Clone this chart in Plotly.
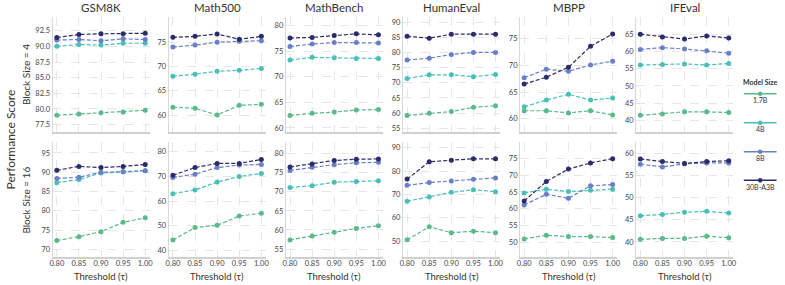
import plotly.graph_objects as go

# ---------------- data ----------------
thresholds = [0.80, 0.85, 0.90, 0.95, 1.00]
threshold_ticks = ["0.80", "0.85", "0.90", "0.95", "1.00"]
model_sizes = ["1.7B", "4B", "8B", "30B-A3B"]
benchmarks = ["GSM8K", "Math500", "MathBench", "HumanEval", "MBPP", "IFEval"]
block_labels = ["Block Size = 4", "Block Size = 16"]

# each list: rows = model sizes (1.7B, 4B, 8B, 30B-A3B), cols = thresholds
gsm8k_bs4 = [[79.0, 79.2, 79.4, 79.5, 79.8],
             [90.0, 90.3, 90.2, 90.5, 90.5],
             [91.0, 91.1, 90.9, 91.2, 91.1],
             [91.4, 91.9, 92.0, 92.0, 92.1]]
math500_bs4 = [[61.6, 61.4, 60.0, 62.0, 62.2],
               [68.0, 68.4, 69.0, 69.2, 69.6],
               [74.0, 74.4, 75.0, 75.2, 75.3],
               [76.0, 76.2, 76.7, 75.6, 76.2]]
mathbench_bs4 = [[62.45, 62.85, 63.1, 63.5, 63.6],
                 [73.3, 73.8, 73.7, 73.6, 73.6],
                 [75.9, 76.4, 76.7, 76.7, 76.6],
                 [77.6, 77.7, 78.05, 78.4, 78.2]]
humaneval_bs4 = [[59.2, 59.9, 60.5, 61.9, 62.4],
                 [71.4, 72.6, 72.6, 72.0, 72.7],
                 [77.5, 78.1, 79.3, 80.0, 80.0],
                 [85.3, 84.7, 86.0, 86.0, 86.0]]
mbpp_bs4 = [[61.5, 61.5, 61.1, 61.5, 60.7],
            [62.25, 63.5, 64.6, 63.5, 63.9],
            [67.7, 69.3, 68.9, 70.1, 70.8],
            [66.5, 67.8, 69.65, 73.6, 75.9]]
ifeval_bs4 = [[41.5, 41.9, 42.5, 42.5, 42.3],
              [56.05, 56.2, 56.4, 56.1, 56.5],
              [60.6, 61.1, 60.7, 60.2, 59.5],
              [65.0, 64.2, 63.6, 64.5, 63.9]]

gsm8k_bs16 = [[72.3, 73.3, 74.6, 77.0, 78.2],
              [87.3, 88.1, 89.8, 90.1, 90.4],
              [88.4, 88.7, 90.0, 90.1, 90.4],
              [90.5, 91.5, 91.2, 91.5, 92.0]]
math500_bs16 = [[44.2, 49.2, 50.1, 53.9, 55.0],
                [63.0, 64.5, 67.7, 70.0, 71.2],
                [69.6, 70.9, 73.6, 74.6, 74.9],
                [70.5, 73.6, 75.3, 75.3, 76.9]]
mathbench_bs16 = [[57.4, 58.4, 59.4, 60.4, 61.1],
                  [71.1, 71.6, 72.5, 72.7, 72.9],
                  [75.6, 76.4, 77.1, 77.6, 77.7],
                  [76.5, 77.3, 78.2, 78.5, 78.6]]
humaneval_bs16 = [[50.5, 56.1, 53.6, 54.2, 53.6],
                  [67.1, 68.9, 70.9, 72.0, 71.2],
                  [73.9, 75.1, 75.8, 76.5, 77.1],
                  [76.6, 84.0, 84.7, 85.3, 85.3]]
mbpp_bs16 = [[51.0, 52.1, 51.7, 51.7, 51.4],
             [64.7, 65.8, 65.1, 65.5, 65.8],
             [61.1, 64.3, 63.1, 66.8, 67.2],
             [62.3, 68.1, 71.8, 73.6, 74.9]]
ifeval_bs16 = [[40.6, 40.8, 40.8, 41.3, 40.96],
               [45.9, 46.2, 46.7, 46.9, 46.5],
               [57.5, 56.9, 57.6, 57.8, 57.8],
               [58.7, 58.1, 57.7, 58.1, 58.3]]

y_ticks_bs4 = [[77.5, 80.0, 82.5, 85.0, 87.5, 90.0, 92.5],
               [60, 65, 70, 75],
               [60, 65, 70, 75, 80],
               [55, 60, 65, 70, 75, 80, 85, 90],
               [60, 65, 70, 75],
               [40, 45, 50, 55, 60, 65]]
y_ticks_bs16 = [[70, 75, 80, 85, 90, 95],
                [40, 50, 60, 70, 80],
                [55, 60, 65, 70, 75, 80],
                [50, 60, 70, 80, 90],
                [50, 55, 60, 65, 70, 75],
                [40, 45, 50, 55, 60]]

# ---------------- style ----------------
W, H = 785, 285
colors = ["#5bb98b", "#48bfb7", "#6a7fc6", "#2b2c68"]
FONT = "Lato"
TXT = "#333333"

panel_left = [50, 167, 285, 403, 521, 638]
panel_w = 98
row_top = [17, 143]
row_h = 115
y_ranges = [[(76.4, 94.7), (56.6, 80.2), (59.3, 81.7), (53.9, 91.7), (57.6, 79.1), (36.8, 70.0)],
            [(68.0, 97.7), (37.2, 83.8), (52.9, 82.9), (43.1, 92.3), (45.6, 79.7), (36.6, 62.4)]]

data_rows = [[gsm8k_bs4, math500_bs4, mathbench_bs4, humaneval_bs4, mbpp_bs4, ifeval_bs4],
             [gsm8k_bs16, math500_bs16, mathbench_bs16, humaneval_bs16, mbpp_bs16, ifeval_bs16]]
tick_rows = [y_ticks_bs4, y_ticks_bs16]

fig = go.Figure()
layout = dict(width=W, height=H, margin=dict(l=0, r=0, t=0, b=0),
              paper_bgcolor="white", plot_bgcolor="white", showlegend=False,
              font=dict(family=FONT, color=TXT))
annotations = []
shapes = []


def ann(text, xpx, ypx, size, angle=0, bold=False):
    return dict(text=f"<b>{text}</b>" if bold else text, x=xpx / W, y=1 - ypx / H,
                xref="paper", yref="paper", xanchor="center", yanchor="middle",
                textangle=angle, showarrow=False, font=dict(size=size, color=TXT))


for r in range(2):
    for c in range(6):
        k = r * 6 + c + 1
        xa = "xaxis" if k == 1 else f"xaxis{k}"
        ya = "yaxis" if k == 1 else f"yaxis{k}"
        xref = "x" if k == 1 else f"x{k}"
        yref = "y" if k == 1 else f"y{k}"
        x0 = panel_left[c] / W
        x1 = (panel_left[c] + panel_w) / W
        y1 = 1 - row_top[r] / H
        y0 = 1 - (row_top[r] + row_h) / H
        ticks = tick_rows[r][c]
        ticktext = [f"{t:.1f}" if c == 0 and r == 0 else f"{t:g}" for t in ticks]
        layout[xa] = dict(domain=[x0, x1], anchor=yref, range=[0.7905, 1.0105],
                          tickvals=thresholds, ticktext=threshold_ticks,
                          showticklabels=(r == 1), ticks="", ticklabelstandoff=-2,
                          showgrid=True, gridcolor="#e6e6e6", griddash="dash", gridwidth=0.8,
                          showline=True, linecolor="#d0d0d0", linewidth=1.5,
                          zeroline=False, tickfont=dict(size=7.5, color="#444"))
        layout[ya] = dict(domain=[y0, y1], anchor=xref, range=list(y_ranges[r][c]),
                          tickvals=ticks, ticktext=ticktext, ticks="",
                          showgrid=True, gridcolor="#e6e6e6", griddash="dash", gridwidth=0.8,
                          showline=True, linecolor="#d8d8d8", linewidth=1,
                          zeroline=False, tickfont=dict(size=7.5, color="#444"))
        series = data_rows[r][c]
        for m, name in enumerate(model_sizes):
            fig.add_trace(go.Scatter(x=thresholds, y=series[m], mode="lines+markers",
                                     name=name, xaxis=xref, yaxis=yref,
                                     line=dict(color=colors[m], width=1.2, dash="4px,2px"),
                                     marker=dict(color=colors[m], size=5)))
        xc = panel_left[c] + panel_w / 2
        if r == 0:
            annotations.append(ann(benchmarks[c], xc, 8, 11.5))
        else:
            annotations.append(ann("Threshold (τ)", xc, 277, 9.5))

# row labels
for r in range(2):
    annotations.append(ann(block_labels[r], 23, row_top[r] + row_h / 2, 10, angle=-90))
annotations.append(ann("Performance Score", 8, 140, 12, angle=-90))

# legend (drawn manually: handle line with marker, label below)
annotations.append(ann("Model Size", 763, 82, 7, bold=True))
leg_y = [94, 123.3, 152.3, 181]
for m, name in enumerate(model_sizes):
    yl = 1 - leg_y[m] / H
    shapes.append(dict(type="line", xref="paper", yref="paper", x0=746.5 / W, x1=779.5 / W,
                       y0=yl, y1=yl, line=dict(color=colors[m], width=1.5)))
    shapes.append(dict(type="circle", xref="paper", yref="paper",
                       x0=(763 - 2.3) / W, x1=(763 + 2.3) / W,
                       y0=yl - 2.3 / H, y1=yl + 2.3 / H,
                       fillcolor=colors[m], line=dict(color=colors[m], width=0)))
    annotations.append(ann(name, 763, leg_y[m] + 6.5, 7))

layout["annotations"] = annotations
layout["shapes"] = shapes
fig.update_layout(**layout)
fig.write_html("out.html", config={"displayModeBar": False},
               post_script="document.body.style.margin='0';document.body.style.padding='0';")
